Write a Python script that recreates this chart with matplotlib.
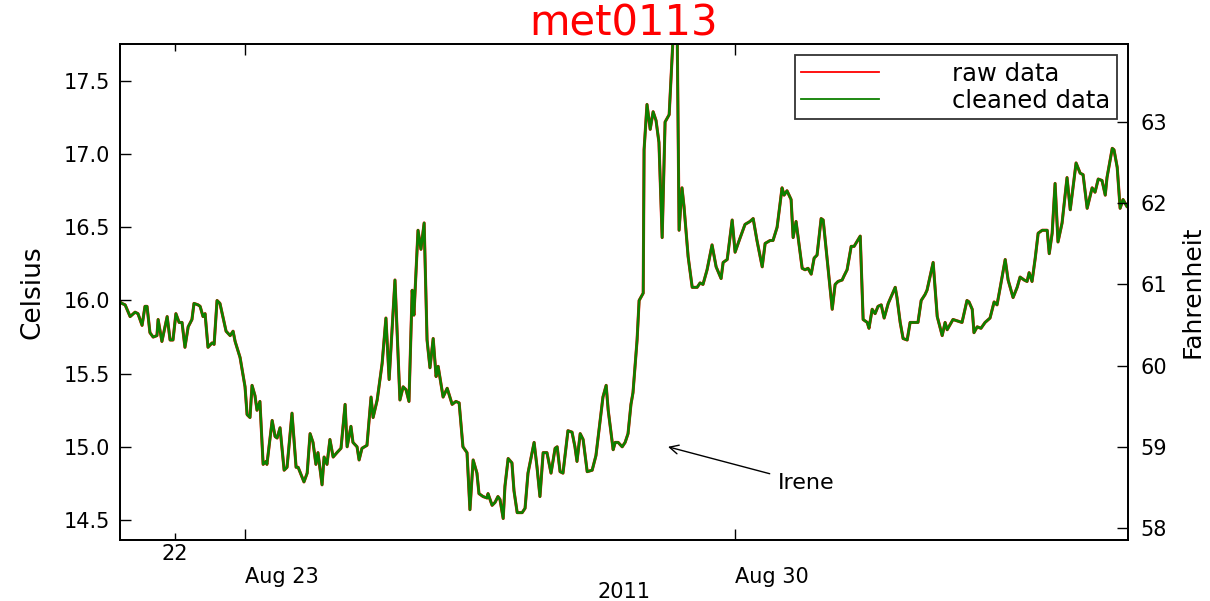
import matplotlib
matplotlib.use("Agg")
import matplotlib.pyplot as plt
import matplotlib.dates as mdates
import numpy as np
import pandas as pd

# ---------------- data ----------------
hours = [5.2, 5.8, 6.9, 8.6, 10.3, 11.3, 12.7, 13.7, 14.4, 15.4, 16.5, 17.8, 18.2, 19.5, 21.3, 22.3, 23.3,
         24.3, 25.4, 26.4, 27.4, 28.5, 29.8, 30.5, 31.9, 32.6, 33.6, 34.3, 35.3, 36.7, 37.4, 38.4, 39.4,
         41.5, 42.9, 43.9, 44.6, 46.3, 48.0, 48.7, 49.7, 50.4, 51.4, 52.1, 53.1, 54.2, 55.2, 55.5, 57.3,
         58.3, 59.0, 60.0, 61.4, 62.4, 64.1, 65.5, 66.2, 68.2, 69.3, 70.3, 71.3, 72.3, 73.0, 74.4, 75.1,
         76.1, 77.1, 78.2, 79.5, 80.9, 82.3, 83.0, 84.3, 85.0, 86.4, 87.1, 88.1, 89.8, 91.2, 91.9, 93.3,
         95.0, 96.3, 97.4, 99.4, 101.1, 102.2, 103.2, 104.2, 105.3, 105.9, 107.3, 108.3, 109.4, 110.4,
         111.4, 112.5, 113.5, 114.2, 115.9, 117.3, 119.0, 120.3, 121.4, 122.7, 124.1, 125.1, 126.2, 127.5,
         128.2, 129.6, 131.0, 131.3, 132.7, 133.7, 134.7, 135.4, 136.5, 137.1, 138.2, 139.5, 140.2, 141.3,
         143.0, 144.0, 145.0, 146.4, 147.1, 148.1, 149.1, 150.2, 151.5, 152.9, 154.3, 155.0, 156.0, 157.0,
         158.7, 160.1, 161.1, 161.8, 162.9, 163.9, 165.3, 167.0, 168.3, 170.7, 171.8, 172.5, 174.2, 174.9,
         175.9, 177.3, 178.3, 179.3, 180.3, 181.0, 182.4, 183.1, 184.5, 184.8, 185.8, 186.9, 187.9, 188.9,
         189.9, 191.0, 192.0, 193.4, 194.4, 195.1, 196.1, 196.8, 197.8, 198.5, 199.9, 201.3, 203.0, 204.0,
         205.0, 206.4, 208.1, 209.5, 211.2, 211.9, 213.3, 215.0, 216.0, 217.4, 219.4, 221.1, 222.2, 223.5,
         225.3, 226.3, 228.0, 229.0, 230.4, 232.1, 232.8, 233.8, 235.2, 235.9, 236.9, 239.0, 240.0, 241.0,
         242.1, 243.1, 244.1, 245.5, 246.2, 249.3, 250.3, 251.3, 252.7, 253.4, 254.4, 255.8, 256.8, 258.9,
         259.9, 261.3, 261.9, 263.0, 264.0, 265.0, 266.1, 267.1, 268.5, 269.8, 270.9, 271.5, 272.6, 273.6,
         275.0, 276.0, 277.7, 278.7, 279.8, 281.1, 281.8, 283.9, 285.3, 287.0, 288.0, 288.7, 290.7, 293.8,
         295.5, 296.2, 297.3, 297.9, 299.0, 300.3, 301.7, 303.4, 304.8, 305.8, 306.9, 308.6, 309.6, 311.3,
         312.7, 313.7, 315.1, 316.1, 316.8, 317.8, 318.9, 319.9, 321.3, 323.0, 323.7, 324.7, 325.7, 326.7,
         328.1, 329.8, 330.9, 331.9, 332.9, 334.3, 335.3, 336.7, 338.4, 339.4, 340.5, 341.8, 342.9, 343.5,
         345.3, 345.9, 347.0, 348.0, 349.0, 350.4, 351.4]

celsius = [15.99, 15.98, 15.97, 15.89, 15.92, 15.91, 15.83, 15.96, 15.96, 15.78, 15.75, 15.76, 15.87, 15.72,
           15.89, 15.73, 15.73, 15.91, 15.85, 15.85, 15.68, 15.82, 15.87, 15.98, 15.97, 15.96, 15.89, 15.91,
           15.68, 15.71, 15.70, 16.00, 15.98, 15.79, 15.76, 15.79, 15.72, 15.61, 15.41, 15.22, 15.20, 15.42,
           15.35, 15.25, 15.31, 14.88, 14.90, 14.88, 15.18, 15.07, 15.06, 15.13, 14.84, 14.86, 15.23, 14.86,
           14.86, 14.76, 14.82, 15.09, 15.03, 14.88, 14.96, 14.74, 14.93, 14.88, 15.05, 14.93, 14.96, 14.99,
           15.29, 15.00, 15.14, 15.03, 15.00, 14.91, 14.99, 15.01, 15.34, 15.20, 15.32, 15.57, 15.88, 15.46,
           16.14, 15.32, 15.41, 15.39, 15.31, 16.07, 15.90, 16.48, 16.35, 16.53, 15.73, 15.54, 15.74, 15.48,
           15.55, 15.34, 15.40, 15.29, 15.31, 15.30, 15.00, 14.96, 14.57, 14.91, 14.82, 14.68, 14.66, 14.65,
           14.68, 14.60, 14.62, 14.66, 14.64, 14.51, 14.73, 14.92, 14.89, 14.70, 14.55, 14.55, 14.58, 14.82,
           14.96, 15.03, 14.86, 14.66, 14.96, 14.96, 14.82, 14.99, 15.00, 14.83, 14.82, 15.11, 15.10, 15.00,
           14.90, 15.09, 15.05, 14.83, 14.84, 14.94, 15.34, 15.42, 15.25, 14.98, 15.03, 15.03, 15.00, 15.03,
           15.09, 15.29, 15.37, 15.73, 16.00, 16.05, 17.03, 17.34, 17.17, 17.29, 17.23, 17.08, 16.43, 17.22,
           17.27, 17.66, 17.95, 17.95, 16.48, 16.77, 16.64, 16.30, 16.09, 16.09, 16.12, 16.11, 16.21, 16.38,
           16.23, 16.15, 16.26, 16.28, 16.55, 16.33, 16.41, 16.52, 16.54, 16.56, 16.41, 16.23, 16.39, 16.41,
           16.41, 16.50, 16.77, 16.72, 16.75, 16.69, 16.43, 16.54, 16.22, 16.21, 16.22, 16.18, 16.29, 16.31,
           16.56, 16.55, 15.94, 16.11, 16.13, 16.14, 16.17, 16.21, 16.37, 16.37, 16.44, 15.87, 15.85, 15.81,
           15.94, 15.91, 15.96, 15.97, 15.88, 15.98, 16.04, 16.09, 16.02, 15.85, 15.74, 15.73, 15.85, 15.85,
           15.85, 16.00, 16.04, 16.07, 16.26, 15.89, 15.76, 15.85, 15.80, 15.87, 15.85, 16.00, 15.99, 15.94,
           15.78, 15.82, 15.81, 15.85, 15.88, 15.99, 15.97, 16.09, 16.28, 16.14, 16.02, 16.09, 16.16, 16.14,
           16.13, 16.19, 16.13, 16.29, 16.46, 16.48, 16.48, 16.32, 16.46, 16.80, 16.40, 16.53, 16.84, 16.62,
           16.78, 16.94, 16.87, 16.86, 16.63, 16.77, 16.74, 16.83, 16.82, 16.72, 16.84, 17.04, 17.03, 16.91,
           16.63, 16.69, 16.64, 16.65]

start = pd.Timestamp("2011-08-21 00:00")
times = start + pd.to_timedelta(hours, unit="h")

title_text = "met0113"
series_labels = ["raw data", "cleaned data"]
celsius_ticks = [14.5, 15.0, 15.5, 16.0, 16.5, 17.0, 17.5]
fahrenheit_ticks = [58, 59, 60, 61, 62, 63]
x_start = pd.Timestamp("2011-08-21 05:08")
x_end = pd.Timestamp("2011-09-04 14:42")
annot_text = "Irene"
annot_point = (pd.Timestamp("2011-08-29 01:00"), 15.0)
annot_textpos = (pd.Timestamp("2011-08-30 14:40"), 14.75)

plt.rcParams["font.family"] = ["DejaVu Sans"]

# ---------------- figure ----------------
fig = plt.figure(figsize=(12.1, 6.01), dpi=100)
ax = fig.add_axes([120 / 1210, 1 - 540 / 601, 1008 / 1210, 496 / 601])

ax.plot(times, celsius, color="red", lw=2.2, label=series_labels[0], solid_joinstyle="round")
ax.plot(times, celsius, color=(0.05, 0.5, 0.0), lw=1.9, label=series_labels[1], solid_joinstyle="round")

ax.set_xlim(x_start, x_end)
ylo, yhi = 14.363, 17.753
ax.set_ylim(ylo, yhi)
ax.set_yticks(celsius_ticks)
ax.set_yticklabels([f"{v:.1f}" for v in celsius_ticks])

ax.xaxis.set_major_locator(mdates.DayLocator(bymonthday=[23, 30]))
ax.xaxis.set_major_formatter(mdates.DateFormatter("\n%b %d"))
ax.xaxis.set_minor_locator(mdates.DayLocator(bymonthday=[22]))
ax.xaxis.set_minor_formatter(mdates.DateFormatter("%d"))

for sp in ax.spines.values():
    sp.set_linewidth(1.3)

ax.tick_params(axis="x", which="major", direction="in", length=8, width=1.0, labelsize=15, pad=3,
               top=True, bottom=True)
ax.tick_params(axis="x", which="minor", direction="in", length=5, width=1.0, labelsize=15, pad=3,
               top=True, bottom=True)
ax.tick_params(axis="y", which="major", direction="in", length=8, width=1.0, labelsize=15, pad=7,
               left=True, right=False)
for lab in ax.xaxis.get_majorticklabels():
    lab.set_horizontalalignment("left")

ax.set_xlabel("2011", fontsize=15)
ax.xaxis.set_label_coords(0.5, -0.085)
ax.set_ylabel("Celsius", fontsize=19)
ax.yaxis.set_label_coords(-0.074, 0.5)
ax.set_title(title_text, color="red", fontsize=30, pad=2)

ax2 = ax.twinx()
ax2.set_ylim(ylo * 9 / 5 + 32, yhi * 9 / 5 + 32)
ax2.set_yticks(fahrenheit_ticks)
ax2.set_yticklabels([str(v) for v in fahrenheit_ticks])
ax2.tick_params(axis="y", direction="in", length=8, width=1.0, labelsize=15, pad=9)
ax2.set_ylabel("Fahrenheit", fontsize=18, rotation=90)
ax2.yaxis.set_label_coords(1.052, 0.5)
for sp in ax2.spines.values():
    sp.set_linewidth(1.3)

leg = ax.legend(loc="upper right", fontsize=17.5, frameon=True, fancybox=False, handlelength=3.2,
                borderaxespad=0.45, handletextpad=3.0, labelspacing=0.12, borderpad=0.28)
leg.get_frame().set_edgecolor("black")
leg.get_frame().set_linewidth(1.3)
for ln in leg.get_lines():
    ln.set_linewidth(1.3)
leg.set_zorder(5)

ax.annotate(annot_text, xy=annot_point, xytext=annot_textpos, fontsize=16, va="center", ha="left",
            arrowprops=dict(arrowstyle="->", color="black", lw=1.0, shrinkA=4, shrinkB=0))

fig.savefig("out.png", dpi=100)
